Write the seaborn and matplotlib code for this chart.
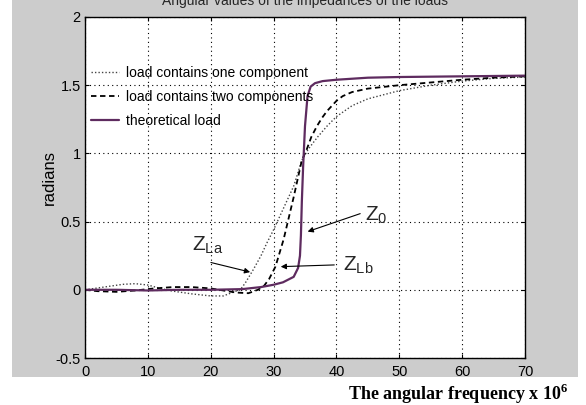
import matplotlib
matplotlib.use('Agg')
import matplotlib.pyplot as plt
from matplotlib.patches import Rectangle
import seaborn as sns

# values
freq_one = [0, 3, 6, 8, 10, 12, 14, 17, 20, 22, 24, 24.7, 25.5, 26.8, 28, 28.9, 30, 31, 32,
            33.2, 34.5, 35.5, 37, 38.5, 40, 42.5, 45, 50, 55, 60, 65, 70]
rad_one = [0.0, 0.02, 0.04, 0.045, 0.035, 0.01, -0.01, -0.03, -0.045, -0.045, -0.01, 0.0, 0.05,
           0.15, 0.25, 0.34, 0.44, 0.54, 0.64, 0.76, 0.95, 1.03, 1.12, 1.2, 1.27, 1.35, 1.4,
           1.46, 1.5, 1.53, 1.55, 1.56]

freq_two = [0, 2, 5, 8, 11, 14, 17, 20, 22, 24, 26, 27.5, 28.5, 29.3, 30.3, 31.6, 33.2, 34.5,
            35.2, 36.0, 36.9, 37.7, 38.5, 39.3, 40, 41, 42.5, 45, 50, 55, 60, 65, 70]
rad_two = [0.0, -0.01, -0.015, -0.005, 0.01, 0.02, 0.02, 0.01, -0.005, -0.02, -0.025, 0.0,
           0.03, 0.08, 0.17, 0.37, 0.68, 0.95, 1.02, 1.12, 1.2, 1.26, 1.31, 1.35, 1.385, 1.42,
           1.45, 1.475, 1.5, 1.52, 1.54, 1.555, 1.565]

freq_theo = [0, 5, 10, 15, 20, 25, 28, 30, 31.5, 33.2, 33.9, 34.2, 34.35, 34.5, 34.7, 35.0,
             35.4, 35.9, 36.6, 37.8, 40, 45, 50, 60, 70]
rad_theo = [0.0, 0.0, -0.005, 0.0, 0.0, 0.005, 0.02, 0.037, 0.055, 0.095, 0.16, 0.25, 0.4,
            0.65, 0.9, 1.2, 1.42, 1.49, 1.515, 1.53, 1.54, 1.555, 1.56, 1.565, 1.57]

series_labels = ['load contains one component', 'load contains two components', 'theoretical load']
x_ticks = [0, 10, 20, 30, 40, 50, 60, 70]
y_ticks = [-0.5, 0, 0.5, 1, 1.5, 2]

sns.set_theme(style='white')
plt.rcParams['font.family'] = ['Liberation Sans', 'DejaVu Sans']
plt.rcParams['mathtext.fontset'] = 'custom'
plt.rcParams['mathtext.rm'] = 'Liberation Sans'
plt.rcParams['mathtext.bf'] = 'Liberation Serif:bold'

fig = plt.figure(figsize=(5.86, 4.05), dpi=100)
fig.patch.set_facecolor('white')
fig.patches.append(Rectangle((12 / 586, 28 / 405), 566 / 586, 377 / 405,
                             transform=fig.transFigure, facecolor='#cccccc',
                             edgecolor='none', zorder=-1))
ax = fig.add_axes([85 / 586, 47 / 405, 440 / 586, 341 / 405])
ax.set_facecolor('white')

sns.lineplot(x=freq_one, y=rad_one, ax=ax, color='#444444', lw=1.0,
             linestyle=(0, (1, 1.5)), label=series_labels[0])
sns.lineplot(x=freq_two, y=rad_two, ax=ax, color='black', lw=1.3,
             linestyle=(0, (3, 2)), label=series_labels[1])
sns.lineplot(x=freq_theo, y=rad_theo, ax=ax, color='#5e2b5f', lw=1.6,
             label=series_labels[2])

ax.set_xlim(0, 70)
ax.set_ylim(-0.5, 2)
ax.set_xticks(x_ticks)
ax.set_yticks(y_ticks)
ax.set_yticklabels(['-0.5', '0', '0.5', '1', '1.5', '2'])
ax.grid(True, color='black', linestyle=(0, (1, 3)), linewidth=0.8)
ax.tick_params(direction='in', length=3, width=0.8, colors='black', labelsize=10.5,
               top=True, right=True, bottom=True, left=True)
ax.tick_params(axis='x', pad=5)
ax.tick_params(axis='y', pad=3)
for s in ax.spines.values():
    s.set_color('black')
    s.set_linewidth(1.0)

ax.set_title('Angular values of the impedances of the loads', fontsize=10, pad=9)
ax.set_ylabel('radians', fontsize=12, color='black')
ax.yaxis.set_label_coords(-0.063, 0.53)
ax.set_xlabel('')

leg = ax.legend(loc='upper left', bbox_to_anchor=(0.014, 0.857), frameon=False,
                fontsize=10, handlelength=2.0, handletextpad=0.5, labelspacing=0.72,
                borderpad=0, borderaxespad=0)
for t in leg.get_texts():
    t.set_color('black')

# annotations
ax.annotate('', xy=(35.0, 0.42), xytext=(44.2, 0.565),
            arrowprops=dict(arrowstyle='-|>', color='black', lw=0.8, mutation_scale=8))
ax.text(44.5, 0.55, r'$\mathrm{Z}_{\mathrm{0}}$', fontsize=15, va='center', ha='left')
ax.annotate('', xy=(26.7, 0.125), xytext=(19.6, 0.205),
            arrowprops=dict(arrowstyle='-|>', color='black', lw=0.8, mutation_scale=8))
ax.text(17.0, 0.33, r'$\mathrm{Z}_{\mathrm{La}}$', fontsize=15, va='center', ha='left')
ax.annotate('', xy=(30.7, 0.169), xytext=(40.1, 0.183),
            arrowprops=dict(arrowstyle='-|>', color='black', lw=0.8, mutation_scale=8))
ax.text(41.0, 0.18, r'$\mathrm{Z}_{\mathrm{Lb}}$', fontsize=15, va='center', ha='left')

fig.text(568 / 586, 5 / 405, r'The angular frequency x 10$^{\mathbf{6}}$', fontsize=13,
         fontweight='bold', family=['Liberation Serif'], ha='right', va='baseline',
         color='black')

fig.savefig('out.png', dpi=100, facecolor='white')
plt.close(fig)
